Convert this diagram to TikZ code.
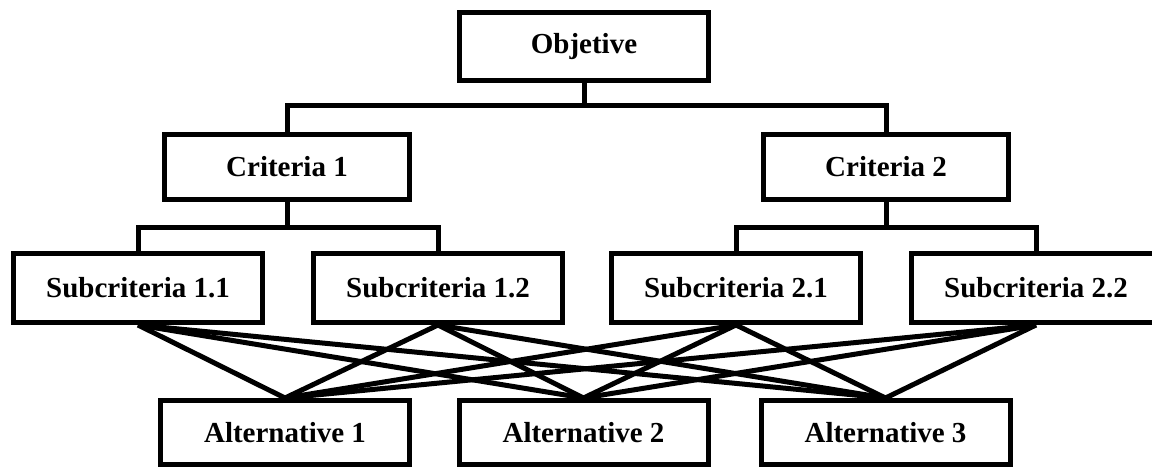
\documentclass[tikz,border=0pt]{standalone}
\usepackage{fontspec}
\setmainfont{Liberation Serif}
\begin{document}
\begin{tikzpicture}[x=0.5pt,y=-0.5pt,
  box/.style={draw=black,line width=2.5pt,fill=white,inner sep=0pt,
    minimum width=124.5pt,font=\fontsize{14.5pt}{16pt}\selectfont\bfseries},
  link/.style={draw=black,line width=2.5pt}]
\useasboundingbox (0,0) rectangle (1152,470);
% nodes
\node[box,minimum height=34pt] (obj) at (584,46.5) {Objetive};
\node[box,minimum width=122.5pt,minimum height=32.5pt] (c1) at (287,167) {Criteria 1};
\node[box,minimum width=122.5pt,minimum height=32.5pt] (c2) at (886,167) {Criteria 2};
\node[box,minimum height=34.5pt] (s11) at (138,288) {Subcriteria 1.1};
\node[box,minimum height=34.5pt] (s12) at (438,288) {Subcriteria 1.2};
\node[box,minimum height=34.5pt] (s21) at (736,288) {Subcriteria 2.1};
\node[box,minimum height=34.5pt] (s22) at (1036,288) {Subcriteria 2.2};
\node[box,minimum height=32pt] (a1) at (285,432.5) {Alternative 1};
\node[box,minimum height=32pt] (a2) at (583.5,432.5) {Alternative 2};
\node[box,minimum height=32pt] (a3) at (885.5,432.5) {Alternative 3};
% junction coordinates
\coordinate (j0) at (584,106);
\coordinate (j1) at (287,228);
\coordinate (j2) at (886,228);
% tree connectors
\draw[link] (obj.south) -- (j0);
\draw[link] (c1.north) -- (c1.north |- j0) -- (c2.north |- j0) -- (c2.north);
\draw[link] (c1.south) -- (j1);
\draw[link] (s11.north) -- (s11.north |- j1) -- (s12.north |- j1) -- (s12.north);
\draw[link] (c2.south) -- (j2);
\draw[link] (s21.north) -- (s21.north |- j2) -- (s22.north |- j2) -- (s22.north);
% full connections
\foreach \s in {s11,s12,s21,s22}{
  \foreach \a in {a1,a2,a3}{
    \draw[link] (\s.south) -- (\a.north);
  }
}
\end{tikzpicture}
\end{document}
